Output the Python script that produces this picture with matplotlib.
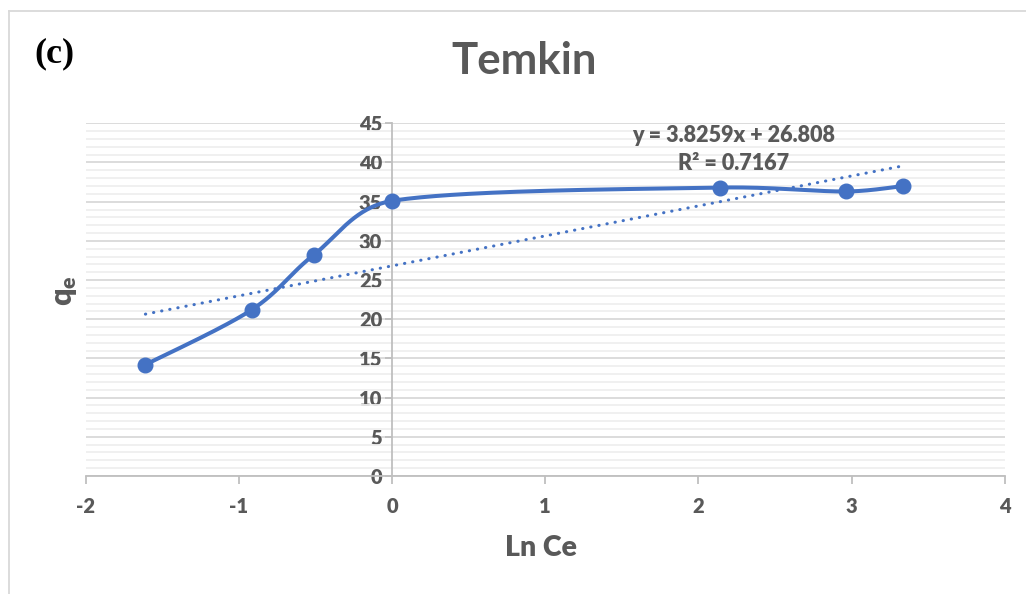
import numpy as np
import matplotlib
matplotlib.use("Agg")
import matplotlib.pyplot as plt
from matplotlib.lines import Line2D
from matplotlib.ticker import MultipleLocator

# Temkin isotherm data: ln(Ce) vs qe
ln_ce = [-1.609, -0.916, -0.511, 0.0, 2.142, 2.962, 3.338]
qe = [14.2, 21.2, 28.2, 35.1, 36.8, 36.3, 37.0]

# Linear trendline reported on the chart
slope = 3.8259
intercept = 26.808
r_squared = 0.7167

x_ticks = [-2, -1, 0, 1, 2, 3, 4]
y_ticks = [0, 5, 10, 15, 20, 25, 30, 35, 40, 45]

BLUE = "#4472C4"
TXT = "#595959"
FONT = "Lato"

plt.rcParams["font.family"] = [FONT, "DejaVu Sans"]
plt.rcParams["font.weight"] = "bold"
plt.rcParams["axes.unicode_minus"] = False
plt.rcParams["mathtext.fontset"] = "custom"
plt.rcParams["mathtext.bf"] = f"{FONT}:heavy"
plt.rcParams["mathtext.rm"] = f"{FONT}:heavy"
plt.rcParams["mathtext.it"] = f"{FONT}:heavy"
plt.rcParams["mathtext.default"] = "bf"

W, H = 1026, 594
fig = plt.figure(figsize=(W / 100, H / 100), dpi=100)

x0, x1 = 85.5, 1004.9
y_top, y_bot = 123.3, 476.0
ax = fig.add_axes([x0 / W, 1 - y_bot / H, (x1 - x0) / W, (y_bot - y_top) / H])
ax.set_xlim(-2, 4)
ax.set_ylim(0, 45)

# outer chart frame (top and left edges)
fig.add_artist(Line2D([9 / W, 9 / W], [0, 1 - 11 / H], transform=fig.transFigure,
                      color="#d9d9d9", lw=1.3))
fig.add_artist(Line2D([9 / W, 1], [1 - 11 / H, 1 - 11 / H], transform=fig.transFigure,
                      color="#d9d9d9", lw=1.3))

for s in ["top", "right"]:
    ax.spines[s].set_visible(False)
ax.spines["left"].set_position(("data", 0))
ax.spines["left"].set_color("#bfbfbf")
ax.spines["left"].set_linewidth(1.3)
ax.spines["bottom"].set_color("#bfbfbf")
ax.spines["bottom"].set_linewidth(1.3)

# ticks and gridlines
ax.set_yticks(y_ticks)
ax.set_xticks(x_ticks)
ax.yaxis.set_minor_locator(MultipleLocator(1))
ax.grid(which="major", axis="y", color="#d9d9d9", lw=1.3, zorder=0)
ax.grid(which="minor", axis="y", color="#efefef", lw=1.3, zorder=0)
ax.set_axisbelow(True)

ax.tick_params(axis="x", which="major", length=6, width=1.3, color="#bfbfbf",
               labelsize=14.5, labelcolor=TXT, pad=9)
ax.tick_params(axis="y", which="major", length=5, width=1.3, color="#bfbfbf",
               labelsize=14.5, labelcolor=TXT, pad=2)
ax.tick_params(axis="y", which="minor", length=0)

# smoothed series (Bezier through the points, computed in display space)
pts = ax.transData.transform(np.column_stack([ln_ce, qe]))
n = len(pts)
curve = []
t = np.linspace(0, 1, 60)[:, None]


def clamp(v, limit):
    length = np.hypot(*v)
    return v if length <= limit or length == 0 else v * (limit / length)


for i in range(n - 1):
    p0 = pts[i]
    p3 = pts[i + 1]
    pm = pts[i - 1] if i > 0 else pts[i]
    pp = pts[i + 2] if i + 2 < n else pts[i + 1]
    seg_len = np.hypot(*(p3 - p0))
    c1 = p0 + clamp((p3 - pm) / 6.0, 0.4 * seg_len)
    c2 = p3 - clamp((pp - p0) / 6.0, 0.4 * seg_len)
    seg = ((1 - t) ** 3) * p0 + 3 * ((1 - t) ** 2) * t * c1 + 3 * (1 - t) * t ** 2 * c2 + t ** 3 * p3
    curve.append(seg if i == 0 else seg[1:])
curve = ax.transData.inverted().transform(np.vstack(curve))
ax.plot(curve[:, 0], curve[:, 1], color=BLUE, lw=2.9, solid_capstyle="round", zorder=3)
ax.plot(ln_ce, qe, "o", color=BLUE, ms=10.5, zorder=4)

# linear trendline
tx = np.array([min(ln_ce), max(ln_ce)])
ax.plot(tx, slope * tx + intercept, color=BLUE, lw=2.2,
        linestyle=(0, (0.1, 2.6)), dash_capstyle="round", zorder=2)

ax.text(2.227, 43.5, f"y = {slope}x + {intercept}", ha="center", va="center",
        fontsize=15.5, fontweight="heavy", color=TXT)
ax.text(2.227, 39.9, f"R² = {r_squared}", ha="center", va="center",
        fontsize=15.5, fontweight="heavy", color=TXT)

# titles and labels
fig.text(524 / W, 1 - 61 / H, "Temkin", ha="center", va="center",
         fontsize=31.5, fontweight="bold", color=TXT)
fig.text(34 / W, 1 - 54 / H, "(c)", ha="left", va="center",
         fontsize=26, fontweight="bold", color="black", family="Liberation Serif")
fig.text(541 / W, 1 - 548 / H, "Ln Ce", ha="center", va="center",
         fontsize=20.5, fontweight="heavy", color=TXT)
fig.text(65 / W, 1 - 291 / H, r"$q_e$", ha="center", va="center",
         fontsize=22, fontweight="heavy", color=TXT, rotation=90)

# heavy tick labels, applied once the ticks exist
fig.canvas.draw()
for lab in ax.get_xticklabels() + ax.get_yticklabels():
    lab.set_fontweight("heavy")

fig.savefig("out.png", dpi=100)
